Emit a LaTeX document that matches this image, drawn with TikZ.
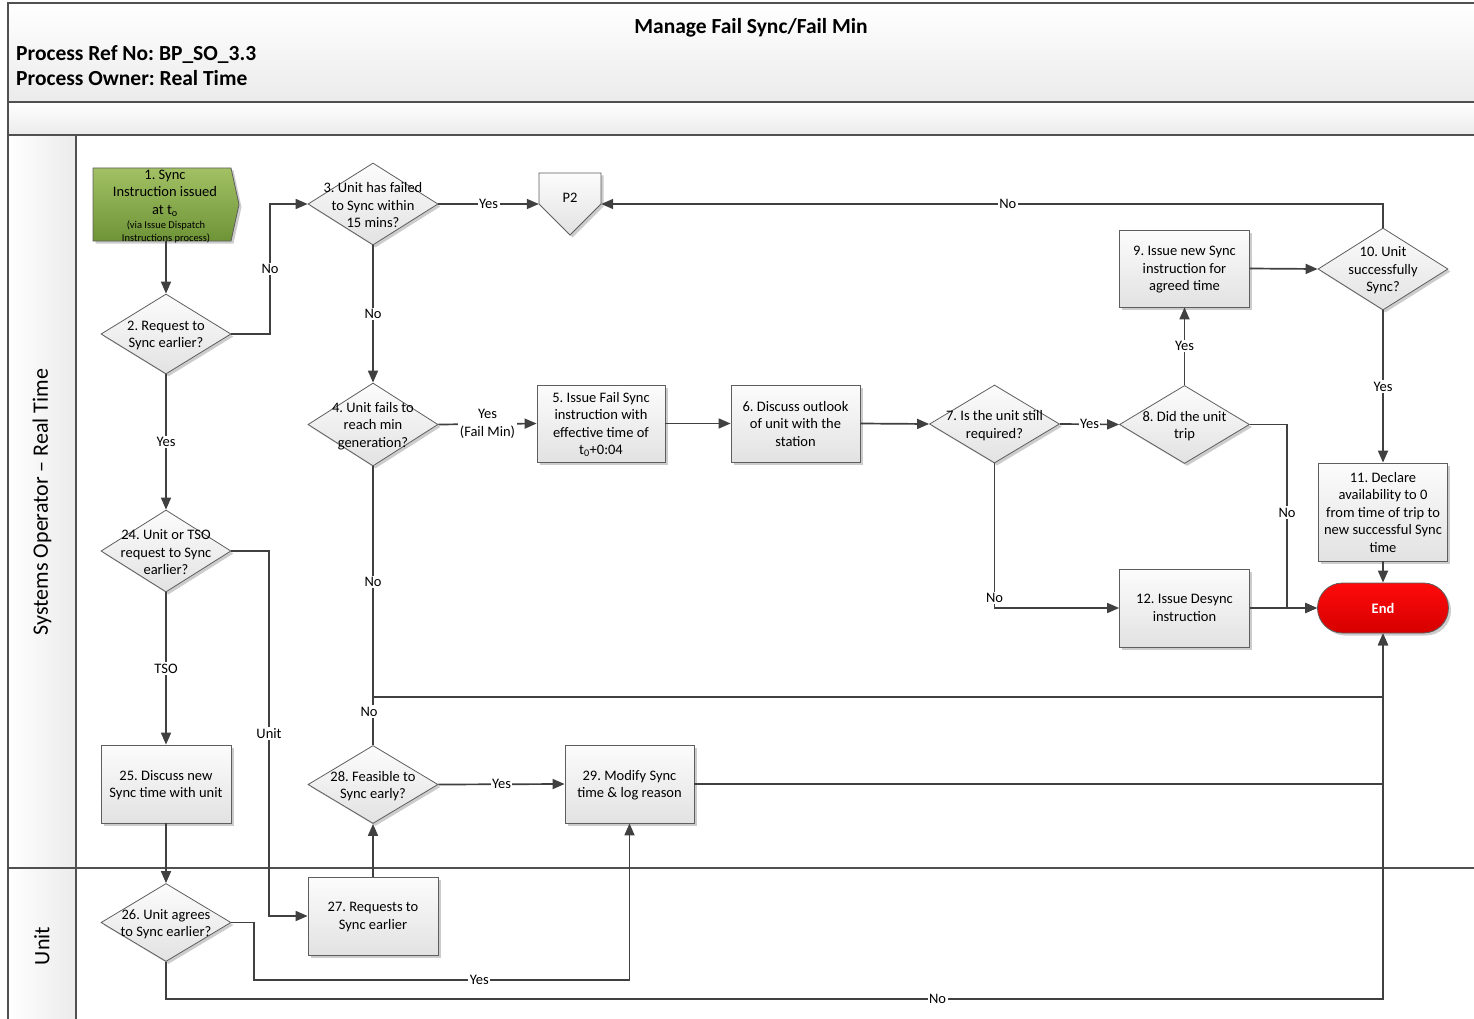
\documentclass[tikz,border=0pt]{standalone}
\usepackage{fontspec}
\setmainfont{Carlito}
\frenchspacing
\usetikzlibrary{arrows.meta,shapes.geometric,shapes.misc,shadows}
\definecolor{linec}{HTML}{404040}
\definecolor{bordc}{HTML}{5E5E5E}
\definecolor{framec}{HTML}{505050}
\definecolor{boxtop}{HTML}{FCFCFC}
\definecolor{boxbot}{HTML}{E2E2E2}
\definecolor{greentop}{HTML}{A2C064}
\definecolor{greenbot}{HTML}{6E9437}
\definecolor{redtop}{HTML}{FF0A0A}
\definecolor{redbot}{HTML}{D60000}
\definecolor{hdrbot}{HTML}{EBEBEB}
\begin{document}
\begin{tikzpicture}[x=1pt,y=-1pt,
  font=\fontsize{14.5}{17.5}\selectfont,
  shad/.style={drop shadow={shadow xshift=2.5pt,shadow yshift=-2.5pt,fill=black,opacity=0.2}},
  fillg/.style={draw=bordc,line width=0.8pt,top color=boxtop,bottom color=boxbot,shad},
  box/.style={fillg,rectangle,inner sep=0pt,align=center,text depth=0pt},
  dia/.style={fillg,diamond,inner sep=0pt,minimum width=130pt,minimum height=80pt},
  txt/.style={inner sep=0pt,align=center,yshift=-1.5pt},
  conn/.style={draw=linec,line width=1.7pt,-{Triangle[length=12pt,width=10pt]}},
  seg/.style={draw=linec,line width=1.7pt},
  lbl/.style={fill=white,inner sep=1.5pt},
  frame/.style={draw=framec,line width=1.4pt},
  hdr/.style={font=\fontsize{21.5}{26}\selectfont\bfseries,inner sep=0pt},
  lane/.style={font=\fontsize{22}{26}\selectfont,rotate=90,inner sep=0pt}
]
\clip (0,0) rectangle (1474,1019);
\useasboundingbox (0,0) rectangle (1474,1019);
\fill[white] (0,0) rectangle (1474,1019);
% header bands
\path[top color=white,bottom color=hdrbot] (8,3) rectangle (1490,102);
\path[top color=white,bottom color=hdrbot] (8,102) rectangle (1490,135);
\path[left color=white,right color=hdrbot] (8,135) rectangle (76,1030);
\draw[frame] (1490,3) -- (8,3) -- (8,1030);
\draw[frame] (8,102) -- (1490,102);
\draw[frame] (8,135) -- (1490,135);
\draw[frame] (8,868) -- (1490,868);
\draw[frame] (76,135) -- (76,1030);
% header texts
\node[hdr,anchor=base] (title) at (751,34) {Manage Fail Sync/Fail Min};
\node[hdr,anchor=base west] (refno) at (16,61) {Process Ref No: BP\_SO\_3.3};
\node[hdr,anchor=base west] (owner) at (16,86) {Process Owner: Real Time};
\node[lane] (laneso) at (42,502) {Systems Operator – Real Time};
\node[lane] (laneunit) at (42,946) {Unit};

% start node
\path[draw=bordc,line width=0.8pt,top color=greentop,bottom color=greenbot,shad]
  (93,168) -- (231,168) -- (239,204.5) -- (231,241) -- (93,241) -- cycle;
\node[inner sep=0pt,minimum width=146pt,minimum height=73pt] (n1) at (166,204.5) {};
\node[txt] (n1t) at (165,191.5) {1. Sync\\Instruction issued\\at t\textsubscript{o}};
\node[txt,font=\fontsize{10.5}{13}\selectfont] (n1s) at (166,231) {(via Issue Dispatch\\Instructions process)};

% P2 off-page
\path[fillg] (539,173) -- (601,173) -- (601,204) -- (570,235) -- (539,204) -- cycle;
\node[inner sep=0pt,minimum width=62pt,minimum height=62pt] (p2) at (570,204) {};
\node[txt] (p2t) at (570,196) {P2};

% diamonds
\node[dia] (d2) at (166,334) {};
\node[txt] (d2t) at (d2) {2. Request to\\Sync earlier?};
\node[dia,minimum height=82pt] (d3) at (373,204) {};
\node[txt] (d3t) at (d3) {3. Unit has failed\\to Sync within\\15 mins?};
\node[dia,minimum height=83pt] (d4) at (373,424.5) {};
\node[txt] (d4t) at (d4) {4. Unit fails to\\reach min\\generation?};
\node[dia,minimum height=78pt] (d7) at (994.5,424) {};
\node[txt] (d7t) at (d7) {7. Is the unit still\\required?};
\node[dia,minimum height=78pt] (d8) at (1184.5,424.5) {};
\node[txt] (d8t) at (d8) {8. Did the unit\\trip};
\node[dia,minimum height=82pt] (d10) at (1383,269) {};
\node[txt] (d10t) at (d10) {10. Unit\\successfully\\Sync?};
\node[dia,minimum height=82pt] (d24) at (166,551) {};
\node[txt] (d24t) at (d24) {24. Unit or TSO\\request to Sync\\earlier?};
\node[dia,minimum height=78pt] (d26) at (166,922.5) {};
\node[txt] (d26t) at (d26) {26. Unit agrees\\to Sync earlier?};
\node[dia,minimum height=78pt] (d28) at (373,784.5) {};
\node[txt] (d28t) at (d28) {28. Feasible to\\Sync early?};

% boxes
\node[box,minimum width=128pt,minimum height=77pt] (b5) at (601,423.5) {5. Issue Fail Sync\\instruction with\\effective time of\\t\textsubscript{0}+0:04};
\node[box,minimum width=129pt,minimum height=77pt] (b6) at (795.5,423.5) {6. Discuss outlook\\of unit with the\\station};
\node[box,minimum width=130pt,minimum height=77pt] (b9) at (1184.5,268.5) {9. Issue new Sync\\instruction for\\agreed time};
\node[box,minimum width=129pt,minimum height=98pt] (b11) at (1383,512) {11. Declare\\availability to 0\\from time of trip to\\new successful Sync\\time};
\node[box,minimum width=130pt,minimum height=78pt] (b12) at (1184.5,608) {12. Issue Desync\\instruction};
\node[box,minimum width=130pt,minimum height=78pt] (b25) at (166,784) {25. Discuss new\\Sync time with unit};
\node[box,minimum width=130pt,minimum height=78pt] (b27) at (373,916) {27. Requests to\\Sync earlier};
\node[box,minimum width=129pt,minimum height=78pt] (b29) at (629.5,784) {29. Modify Sync\\time \& log reason};
\node[rounded rectangle,draw=bordc,line width=0.8pt,top color=redtop,bottom color=redbot,shad,
      minimum width=131pt,minimum height=50pt,inner sep=0pt,text=white,font=\fontsize{14.5}{17.5}\selectfont\bfseries] (end) at (1383,608) {End};

% connectors
\draw[conn] (n1.south) -- (d2.north);
\draw[conn] (d2.east) -- (270,334) -- node[lbl]{No} (270,204) -- (d3.west);
\draw[conn] (d3.east) -- node[lbl]{Yes} (p2.west);
\draw[conn] (d10.north) -- (1383,204) -- node[lbl,pos=0.48]{No} (p2.east);
\draw[conn] (d3.south) -- node[lbl]{No} (d4.north);
\draw[conn] (d4.east) -- node[lbl,align=center]{Yes\\(Fail Min)} (b5.west);
\draw[conn] (b5.east) -- (b6.west);
\draw[conn] (b6.east) -- (d7.west);
\draw[conn] (d7.east) -- node[lbl]{Yes} (d8.west);
\draw[conn] (d8.north) -- node[lbl]{Yes} (b9.south);
\draw[conn] (b9.east) -- (d10.west);
\draw[conn] (d10.south) -- node[lbl]{Yes} (b11.north);
\draw[conn] (b11.south) -- (end.north);
\draw[conn] (d8.east) -- (1287,424.5) -- node[lbl,pos=0.48]{No} (1287,608) -- (end.west);
\draw[conn] (d7.south) -- node[lbl,pos=0.93]{No} (994.5,608) -- (b12.west);
\draw[conn] (b12.east) -- (end.west);
\draw[conn] (d4.south) -- node[lbl]{No} (373,697) -- (1383,697) -- (end.south);
\draw[seg] (d28.north) -- node[lbl,pos=0.7,xshift=-4pt]{No} (373,697);
\draw[conn] (d2.south) -- node[lbl]{Yes} (d24.north);
\draw[conn] (d24.south) -- node[lbl]{TSO} (b25.north);
\draw[conn] (d24.east) -- (269,551) -- node[lbl]{Unit} (269,916) -- (b27.west);
\draw[conn] (b25.south) -- (d26.north);
\draw[conn] (b27.north) -- (d28.south);
\draw[conn] (d28.east) -- node[lbl]{Yes} (b29.west);
\draw[seg] (b29.east) -- (1383,784);
\draw[conn] (d26.east) -- (254,922.5) -- (254,980) -- node[lbl,pos=0.6]{Yes} (629.5,980) -- (b29.south);
\draw[conn] (d26.south) -- (166,999) -- node[lbl,pos=0.634]{No} (1383,999) -- (end.south);
\end{tikzpicture}
\end{document}
